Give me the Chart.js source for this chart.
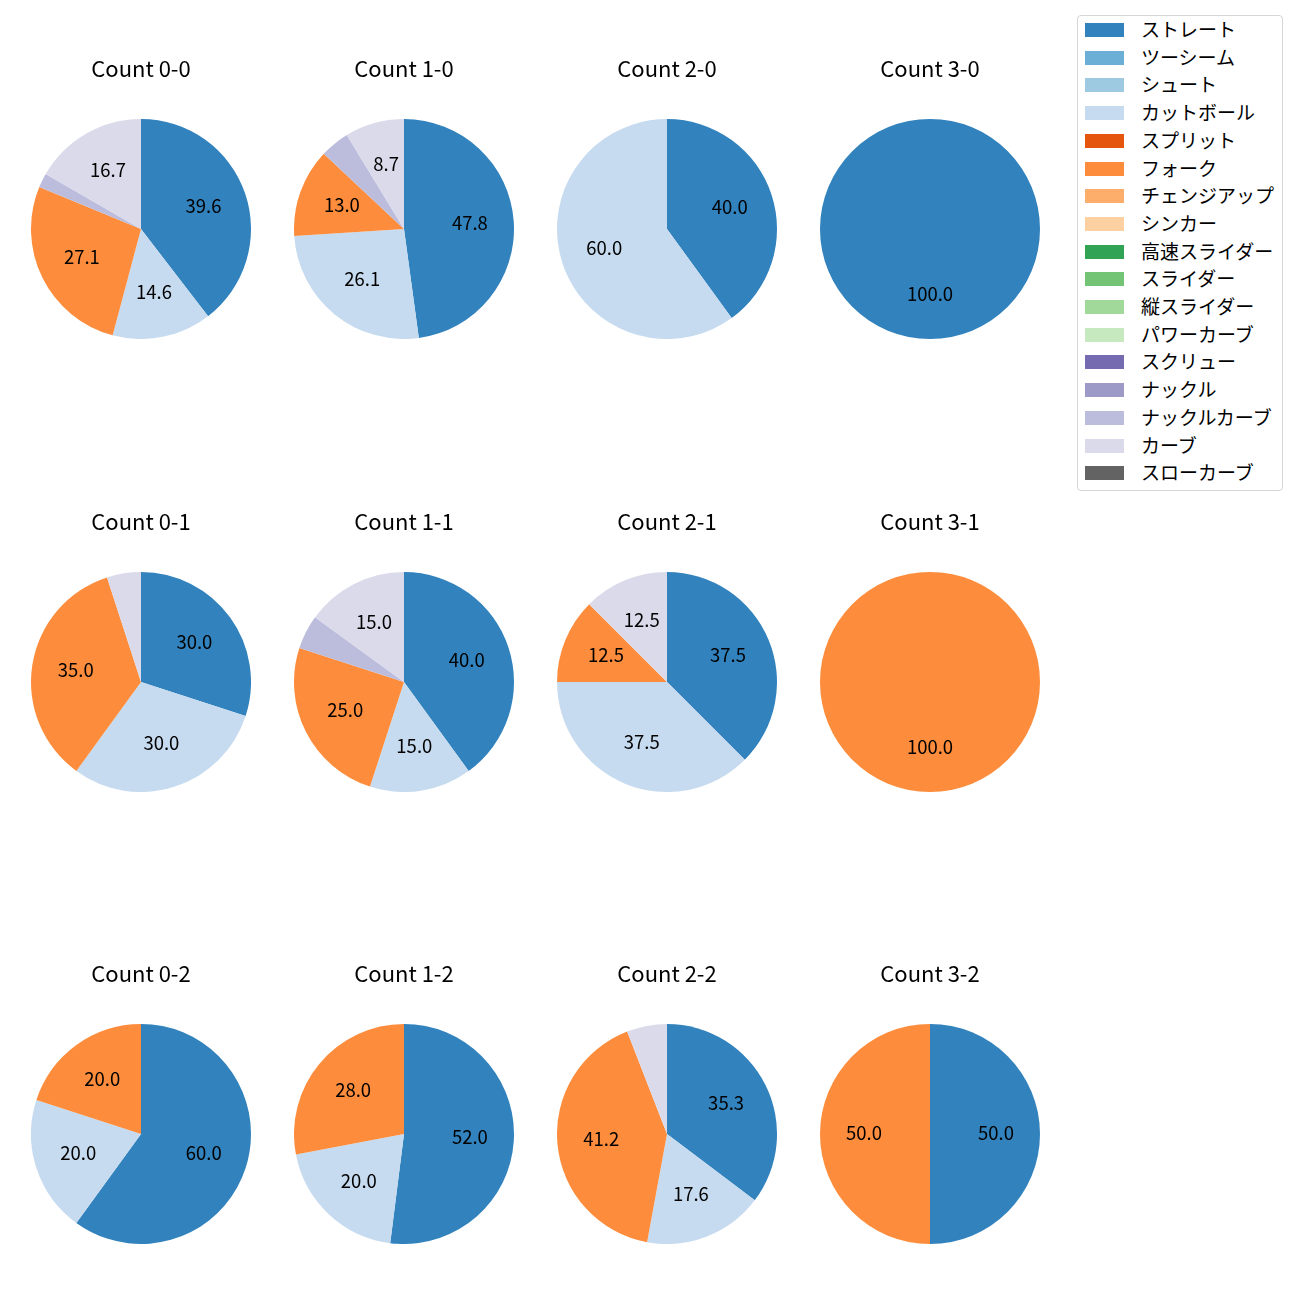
<!DOCTYPE html>
<html>
<head>
<meta charset="utf-8">
<script src="https://cdn.jsdelivr.net/npm/chart.js@4"></script>
<style>
    body { margin: 0; background: #fff; width: 1300px; height: 1300px; position: relative; overflow: hidden; }
    canvas { position: absolute; }
    .legend {
        position: absolute; left: 1077px; top: 15px; width: 206px; height: 476px;
        border: 1px solid #d6d6d6; border-radius: 4px; box-sizing: border-box;
        font-family: "Noto Sans CJK JP", "Noto Sans", sans-serif; font-size: 19px; color: #000;
    }
    .legend-item { position: absolute; left: 0; height: 20px; }
    .legend-patch { position: absolute; left: 7px; top: 3px; width: 39px; height: 14px; }
    .legend-text { position: absolute; left: 63px; top: -3px; white-space: nowrap; line-height: 24px; }
</style>
</head>
<body>
<div class="legend" id="legend"></div>
<script>
const pitchTypes = ["ストレート", "ツーシーム", "シュート", "カットボール", "スプリット", "フォーク", "チェンジアップ", "シンカー", "高速スライダー", "スライダー", "縦スライダー", "パワーカーブ", "スクリュー", "ナックル", "ナックルカーブ", "カーブ", "スローカーブ"];
const pitchColors = ["#3182bd", "#6baed6", "#9ecae1", "#c6dbef", "#e6550d", "#fd8d3c", "#fdae6b", "#fdd0a2", "#31a354", "#74c476", "#a1d99b", "#c7e9c0", "#756bb1", "#9e9ac8", "#bcbddc", "#dadaeb", "#636363"];

const countTitles = ["Count 0-0", "Count 1-0", "Count 2-0", "Count 3-0",
                     "Count 0-1", "Count 1-1", "Count 2-1", "Count 3-1",
                     "Count 0-2", "Count 1-2", "Count 2-2", "Count 3-2"];

// percentages per pitch type, same order as pitchTypes
const count00 = [39.6, 0, 0, 14.6, 0, 27.1, 0, 0, 0, 0, 0, 0, 0, 0, 2.1, 16.7, 0];
const count10 = [47.8, 0, 0, 26.1, 0, 13.0, 0, 0, 0, 0, 0, 0, 0, 0, 4.3, 8.7, 0];
const count20 = [40.0, 0, 0, 60.0, 0, 0, 0, 0, 0, 0, 0, 0, 0, 0, 0, 0, 0];
const count30 = [100.0, 0, 0, 0, 0, 0, 0, 0, 0, 0, 0, 0, 0, 0, 0, 0, 0];
const count01 = [30.0, 0, 0, 30.0, 0, 35.0, 0, 0, 0, 0, 0, 0, 0, 0, 0, 5.0, 0];
const count11 = [40.0, 0, 0, 15.0, 0, 25.0, 0, 0, 0, 0, 0, 0, 0, 0, 5.0, 15.0, 0];
const count21 = [37.5, 0, 0, 37.5, 0, 12.5, 0, 0, 0, 0, 0, 0, 0, 0, 0, 12.5, 0];
const count31 = [0, 0, 0, 0, 0, 100.0, 0, 0, 0, 0, 0, 0, 0, 0, 0, 0, 0];
const count02 = [60.0, 0, 0, 20.0, 0, 20.0, 0, 0, 0, 0, 0, 0, 0, 0, 0, 0, 0];
const count12 = [52.0, 0, 0, 20.0, 0, 28.0, 0, 0, 0, 0, 0, 0, 0, 0, 0, 0, 0];
const count22 = [35.3, 0, 0, 17.6, 0, 41.2, 0, 0, 0, 0, 0, 0, 0, 0, 0, 5.9, 0];
const count32 = [50.0, 0, 0, 0, 0, 50.0, 0, 0, 0, 0, 0, 0, 0, 0, 0, 0, 0];
const countValues = [count00, count10, count20, count30, count01, count11, count21, count31, count02, count12, count22, count32];

const colCenters = [141, 404, 667, 930];
const rowCenters = [229, 682, 1134];
const radius = 110;
const headHeight = 64;
const font = '"Noto Sans CJK JP", "Noto Sans", sans-serif';

// draws the percentage text inside each wedge, like autopct
const pctLabels = {
    id: "pctLabels",
    afterDatasetsDraw(chart) {
        const ctx = chart.ctx;
        const meta = chart.getDatasetMeta(0);
        const values = chart.data.datasets[0].data;
        let total = values.reduce((a, b) => a + b, 0);
        ctx.save();
        ctx.font = "18.5px " + font;
        ctx.fillStyle = "#000";
        ctx.textAlign = "center";
        ctx.textBaseline = "middle";
        meta.data.forEach((arc, i) => {
            let pct = values[i] / total * 100;
            if (pct < 7) return;
            let mid = (arc.startAngle + arc.endAngle) / 2;
            let r = arc.outerRadius * 0.6;
            ctx.fillText(pct.toFixed(1), arc.x + Math.cos(mid) * r, arc.y + Math.sin(mid) * r - 1.5);
        });
        ctx.restore();
    }
};

for (let i = 0; i < countValues.length; i++) {
    let canvas = document.createElement("canvas");
    let cx = colCenters[i % 4];
    let cy = rowCenters[Math.floor(i / 4)];
    canvas.style.left = (cx - radius) + "px";
    canvas.style.top = (cy - radius - headHeight) + "px";
    canvas.style.width = (radius * 2) + "px";
    canvas.style.height = (radius * 2 + headHeight) + "px";
    document.body.appendChild(canvas);

    new Chart(canvas, {
        type: "pie",
        data: {
            labels: pitchTypes,
            datasets: [{
                data: countValues[i],
                backgroundColor: pitchColors,
                borderWidth: 0,
                hoverOffset: 0,
                offset: 0,
            }],
        },
        options: {
            responsive: false,
            animation: false,
            layout: { padding: 0 },
            plugins: {
                legend: { display: false },
                tooltip: { enabled: false },
                title: {
                    display: true,
                    text: countTitles[i],
                    color: "#000",
                    font: { family: font, size: 22, weight: "normal", lineHeight: 1.2 },
                    padding: { top: 0, bottom: headHeight - 26.4 },
                },
            },
        },
        plugins: [pctLabels],
    });
}

let legend = document.getElementById("legend");
for (let i = 0; i < pitchTypes.length; i++) {
    let item = document.createElement("div");
    item.className = "legend-item";
    item.style.top = (4 + i * 27.7) + "px";
    item.innerHTML = '<div class="legend-patch" style="background:' + pitchColors[i] + '"></div>' +
        '<div class="legend-text">' + pitchTypes[i] + '</div>';
    legend.appendChild(item);
}
</script>
</body>
</html>
